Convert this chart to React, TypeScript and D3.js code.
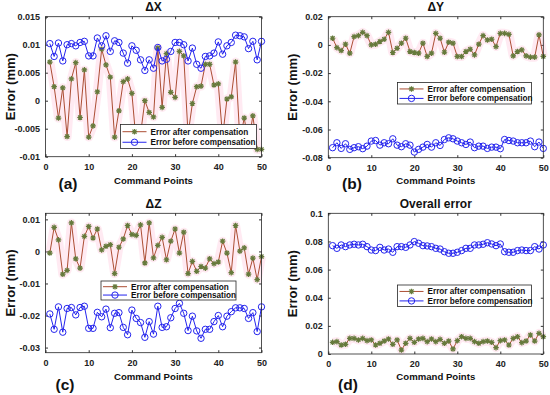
import React, { useEffect, useRef } from "react";
import * as d3 from "d3";

// command point index 1..50
const commandPoints = d3.range(1, 51);
const xTicks = [0, 10, 20, 30, 40, 50];

const dxAfter = [0.0069, 0.0025, -0.0031, 0.0023, -0.0064, 0.0039, 0.0068, -0.003, 0.0055, -0.0065, -0.0045, 0.0016, 0.0092, 0.0064, 0.0042, -0.0065, -0.0018, 0.0034, 0.0039, 0.0013, -0.0075, -0.006, 0, -0.0021, -0.0029, 0.0094, -0.0012, 0.0084, 0.0015, 0.0006, 0.0088, 0.008, -0.006, -0.0005, 0.0025, 0.0026, 0.0065, 0.0065, 0.0028, 0.003, -0.0065, 0.0003, 0.0007, 0.0069, -0.007, -0.0031, -0.0075, -0.0027, -0.0087, -0.0087];
const dxBefore = [0.0102, 0.0079, 0.0103, 0.0071, 0.01, 0.0102, 0.0098, 0.0104, 0.0106, 0.008, 0.008, 0.0112, 0.0098, 0.0116, 0.0088, 0.0107, 0.0104, 0.0085, 0.0067, 0.0098, 0.009, 0.0073, 0.0054, 0.0073, 0.0058, 0.0095, 0.0071, 0.0074, 0.0088, 0.0104, 0.0104, 0.01, 0.0071, 0.0094, 0.0065, 0.0058, 0.0079, 0.008, 0.0085, 0.0105, 0.0083, 0.0098, 0.0104, 0.0117, 0.0116, 0.0114, 0.0093, 0.0106, 0.0073, 0.0106];

const dyAfter = [0.0047, -0.0019, -0.004, 0.0005, -0.0059, 0.0059, 0.0066, 0.0089, 0.0066, 0, 0.0005, 0.0024, 0.004, 0.0089, -0.0054, -0.0024, 0.0012, 0.0047, -0.0047, -0.0054, -0.0059, 0.0012, -0.0082, -0.0059, 0.0082, 0.0047, -0.0052, 0.0019, 0.0012, -0.0082, -0.0082, -0.0047, -0.0031, -0.0071, 0.0005, 0.0066, 0.0035, 0.004, -0.0012, 0.0082, 0.0082, 0.0075, -0.0078, -0.0047, -0.0035, -0.0078, -0.0087, -0.0087, 0.0071, -0.0082];
const dyBefore = [-0.0729, -0.0694, -0.0734, -0.0701, -0.0741, -0.0729, -0.0722, -0.0736, -0.0718, -0.0682, -0.0678, -0.0711, -0.0694, -0.0701, -0.0666, -0.0711, -0.0722, -0.0701, -0.0711, -0.076, -0.0741, -0.0725, -0.0706, -0.0725, -0.0694, -0.0713, -0.0671, -0.0659, -0.0666, -0.0682, -0.0694, -0.0706, -0.0689, -0.0729, -0.0718, -0.0718, -0.0734, -0.0725, -0.0725, -0.0736, -0.0671, -0.0678, -0.0682, -0.0694, -0.0694, -0.0694, -0.0682, -0.0722, -0.0689, -0.0734];

const dzAfter = [-0.0005, 0.0075, 0.0036, -0.0071, -0.0059, 0.0089, -0.0023, -0.0052, 0.0047, 0.0078, 0.0042, 0.007, 0.0005, 0.0016, 0.0021, -0.0069, 0.0013, 0.0039, 0.0081, 0.0053, 0.005, 0.0083, -0.0036, 0.0089, -0.002, 0.0019, 0.0044, -0.0026, 0.0032, 0.007, -0.0005, 0.006, -0.0069, -0.0031, -0.0062, -0.0047, -0.0052, -0.0023, -0.0038, -0.0033, 0.0032, -0.0005, -0.0066, 0.0081, 0.0001, 0.0011, -0.0071, -0.0021, -0.0088, -0.0016];
const dzBefore = [-0.0195, -0.0243, -0.0173, -0.0252, -0.0178, -0.0175, -0.0198, -0.0175, -0.0171, -0.024, -0.024, -0.019, -0.0204, -0.018, -0.0238, -0.0193, -0.0191, -0.0237, -0.026, -0.0183, -0.0209, -0.0222, -0.0268, -0.0219, -0.0258, -0.0171, -0.0237, -0.0235, -0.0207, -0.0178, -0.0162, -0.0193, -0.0247, -0.0202, -0.0248, -0.0271, -0.0243, -0.0243, -0.0219, -0.02, -0.0235, -0.0202, -0.0188, -0.0176, -0.0176, -0.0178, -0.0209, -0.0191, -0.025, -0.0173];

const overallAfter = [0.0083, 0.0088, 0.0064, 0.0069, 0.0111, 0.0111, 0.01, 0.0111, 0.0095, 0.01, 0.0064, 0.0076, 0.0092, 0.0107, 0.0069, 0.01, 0.0028, 0.0076, 0.0111, 0.0083, 0.0107, 0.0111, 0.0088, 0.0107, 0.0088, 0.0104, 0.0076, 0.0092, 0.0036, 0.0095, 0.0123, 0.0111, 0.0111, 0.0088, 0.0076, 0.0088, 0.0092, 0.0083, 0.0045, 0.0095, 0.01, 0.0064, 0.0111, 0.0123, 0.0081, 0.0092, 0.0135, 0.0092, 0.0147, 0.0123];
const overallBefore = [0.077, 0.0751, 0.0775, 0.0763, 0.0775, 0.078, 0.0775, 0.078, 0.0763, 0.0739, 0.0735, 0.0758, 0.0739, 0.0746, 0.0723, 0.0763, 0.0763, 0.0758, 0.0775, 0.0799, 0.0787, 0.077, 0.0768, 0.0763, 0.0751, 0.0746, 0.0727, 0.0716, 0.0716, 0.0723, 0.0735, 0.0751, 0.0751, 0.0775, 0.0775, 0.078, 0.0791, 0.0782, 0.077, 0.0782, 0.0727, 0.0723, 0.0723, 0.0735, 0.0739, 0.0735, 0.0735, 0.0763, 0.0746, 0.0775];

const yTicksX = [-0.01, -0.005, 0, 0.005, 0.01, 0.015];
const yTicksY = [-0.08, -0.06, -0.04, -0.02, 0, 0.02];
const yTicksZ = [-0.03, -0.02, -0.01, 0, 0.01];
const yTicksOverall = [0, 0.02, 0.04, 0.06, 0.08, 0.1];

const legendLabels = ["Error after compensation", "Error before compensation"];

const FONT = "'Liberation Sans', Arial, Helvetica, sans-serif";
const RED = "#ac4e34";
const RED_MARK = "#667a3c";
const BLUE = "#2424ee";

const panels = [
  {
    title: "ΔX", tag: "(a)", after: dxAfter, before: dxBefore, ticks: yTicksX, domain: [-0.01, 0.015],
    box: { x0: 45.5, x1: 261.5, y0: 16.7, y1: 156.7 },
    legend: { x: 120.5, y: 124.5, w: 136, h: 24 },
    tagPos: { x: 68, y: 189 }, xLabelY: 184,
  },
  {
    title: "ΔY", tag: "(b)", after: dyAfter, before: dyBefore, ticks: yTicksY, domain: [-0.08, 0.02],
    box: { x0: 328.3, x1: 543.3, y0: 16.7, y1: 157.7 },
    legend: { x: 397.5, y: 82.5, w: 134, h: 21.5 },
    tagPos: { x: 352, y: 189 }, xLabelY: 184,
  },
  {
    title: "ΔZ", tag: "(c)", after: dzAfter, before: dzBefore, ticks: yTicksZ, domain: [-0.0316, 0.0119],
    box: { x0: 45.5, x1: 261.5, y0: 213.3, y1: 352.7 },
    legend: { x: 101, y: 281, w: 135, h: 19 },
    tagPos: { x: 65, y: 390 }, xLabelY: 380,
  },
  {
    title: "Overall error", tag: "(d)", after: overallAfter, before: overallBefore, ticks: yTicksOverall, domain: [0, 0.1],
    box: { x0: 328.3, x1: 543.3, y0: 213.3, y1: 354 },
    legend: { x: 397.5, y: 285, w: 134, h: 21.5 },
    tagPos: { x: 348, y: 390 }, xLabelY: 380,
  },
];

const starPath = (r) => {
  const k = r * 0.72;
  return `M${-r},0H${r}M0,${-r}V${r}M${-k},${-k}L${k},${k}M${-k},${k}L${k},${-k}`;
};

export default function App() {
  const ref = useRef(null);

  useEffect(() => {
    const svg = d3.select(ref.current);
    svg.selectAll("*").remove();

    svg.append("rect").attr("width", 550).attr("height", 395).attr("fill", "#fff");

    panels.forEach((p) => {
      const { x0, x1, y0, y1 } = p.box;
      const x = d3.scaleLinear().domain([0, 50]).range([x0, x1]);
      const y = d3.scaleLinear().domain(p.domain).range([y1, y0]);
      const g = svg.append("g");

      g.append("rect")
        .attr("x", x0).attr("y", y0).attr("width", x1 - x0).attr("height", y1 - y0)
        .attr("fill", "#fff");

      // ticks point inward on all four sides
      const xAxis = g.append("g")
        .attr("transform", `translate(0,${y1})`)
        .call(d3.axisBottom(x).tickValues(xTicks).tickSize(-2.5).tickSizeOuter(0).tickPadding(6.5));
      xAxis.select(".domain").remove();
      xAxis.selectAll("text").attr("font-size", 9).attr("font-weight", "bold").attr("font-family", FONT).attr("fill", "#222");
      xAxis.selectAll("line").attr("stroke", "#333");

      const xTop = g.append("g")
        .attr("transform", `translate(0,${y0})`)
        .call(d3.axisTop(x).tickValues(xTicks).tickSize(-2.5).tickSizeOuter(0).tickFormat(() => ""));
      xTop.select(".domain").remove();
      xTop.selectAll("line").attr("stroke", "#333");

      const yAxis = g.append("g")
        .attr("transform", `translate(${x0},0)`)
        .call(d3.axisLeft(y).tickValues(p.ticks).tickSize(-2.5).tickSizeOuter(0).tickPadding(5.5).tickFormat((d) => `${+d.toFixed(3)}`));
      yAxis.select(".domain").remove();
      yAxis.selectAll("text").attr("font-size", 9).attr("font-weight", "bold").attr("font-family", FONT).attr("fill", "#222");
      yAxis.selectAll("line").attr("stroke", "#333");

      const yRight = g.append("g")
        .attr("transform", `translate(${x1},0)`)
        .call(d3.axisRight(y).tickValues(p.ticks).tickSize(-2.5).tickSizeOuter(0).tickFormat(() => ""));
      yRight.select(".domain").remove();
      yRight.selectAll("line").attr("stroke", "#333");

      const line = d3.line().x((d, i) => x(commandPoints[i])).y((d) => y(d));

      // pink halo around the compensated series
      g.append("path")
        .datum(p.after)
        .attr("d", line)
        .attr("fill", "none")
        .attr("stroke", "#ff9fc6")
        .attr("stroke-opacity", 0.22)
        .attr("stroke-width", 9)
        .attr("stroke-linejoin", "round");

      g.append("path")
        .datum(p.after)
        .attr("d", line)
        .attr("fill", "none")
        .attr("stroke", RED)
        .attr("stroke-width", 1);

      g.append("g")
        .selectAll("path")
        .data(p.after)
        .join("path")
        .attr("transform", (d, i) => `translate(${x(commandPoints[i])},${y(d)})`)
        .attr("d", starPath(2.8))
        .attr("stroke", RED_MARK)
        .attr("stroke-width", 1.2)
        .attr("fill", "none");

      g.append("path")
        .datum(p.before)
        .attr("d", line)
        .attr("fill", "none")
        .attr("stroke", BLUE)
        .attr("stroke-width", 1);

      g.append("g")
        .selectAll("circle")
        .data(p.before)
        .join("circle")
        .attr("cx", (d, i) => x(commandPoints[i]))
        .attr("cy", (d) => y(d))
        .attr("r", 3.2)
        .attr("fill", "none")
        .attr("stroke", BLUE)
        .attr("stroke-width", 1);

      g.append("rect")
        .attr("x", x0).attr("y", y0).attr("width", x1 - x0).attr("height", y1 - y0)
        .attr("fill", "none").attr("stroke", "#262626").attr("stroke-width", 0.8);

      // legend
      const L = p.legend;
      const lg = g.append("g").attr("transform", `translate(${L.x},${L.y})`);
      lg.append("rect").attr("width", L.w).attr("height", L.h)
        .attr("fill", "#fff").attr("stroke", "#262626").attr("stroke-width", 0.8);
      const rowY = [L.h * 0.3, L.h * 0.74];
      legendLabels.forEach((label, i) => {
        const row = lg.append("g").attr("transform", `translate(0,${rowY[i]})`);
        row.append("line").attr("x1", 2).attr("x2", 26).attr("stroke", i === 0 ? RED : BLUE).attr("stroke-width", 1);
        if (i === 0) {
          row.append("path").attr("transform", "translate(14,0)").attr("d", starPath(2.8))
            .attr("stroke", RED_MARK).attr("stroke-width", 1.2).attr("fill", "none");
        } else {
          row.append("circle").attr("cx", 14).attr("r", 3.2).attr("fill", "none").attr("stroke", BLUE);
        }
        row.append("text").attr("x", 30).attr("dy", "0.35em")
          .attr("font-size", 8.2).attr("font-weight", "bold").attr("font-family", FONT).attr("fill", "#111")
          .text(label);
      });

      // titles and labels
      const cx = (x0 + x1) / 2;
      g.append("text").attr("x", cx).attr("y", y0 - 5.5).attr("text-anchor", "middle")
        .attr("font-size", 12).attr("font-weight", "bold").attr("font-family", FONT).attr("fill", "#111")
        .text(p.title);
      g.append("text").attr("x", cx).attr("y", p.xLabelY).attr("text-anchor", "middle")
        .attr("font-size", 9.6).attr("font-weight", "bold").attr("font-family", FONT).attr("fill", "#111")
        .text("Command Points");
      g.append("text")
        .attr("transform", `translate(${x0 - 31},${(y0 + y1) / 2}) rotate(-90)`)
        .attr("text-anchor", "middle")
        .attr("font-size", 13).attr("font-weight", "bold").attr("font-family", FONT).attr("fill", "#111")
        .text("Error (mm)");
      g.append("text").attr("x", p.tagPos.x).attr("y", p.tagPos.y).attr("text-anchor", "middle")
        .attr("font-size", 15.5).attr("font-weight", "bold").attr("font-family", FONT).attr("fill", "#111")
        .text(p.tag);
    });
  }, []);

  return (
    <svg ref={ref} width={550} height={395} style={{ position: "absolute", left: 0, top: 0 }} />
  );
}
